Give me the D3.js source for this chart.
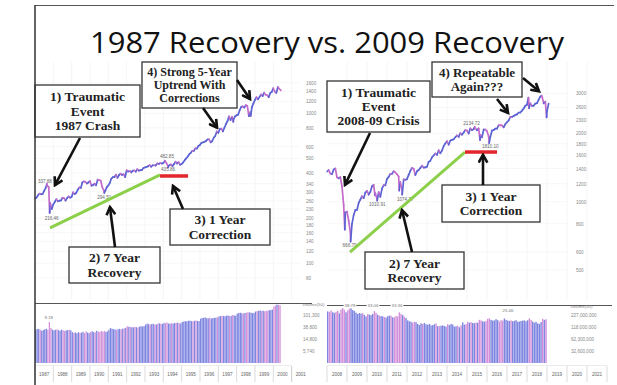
<!DOCTYPE html>
<html>
<head>
<meta charset="utf-8">
<script src="https://cdnjs.cloudflare.com/ajax/libs/d3/7.8.5/d3.min.js"></script>
<style>
  body { margin: 0; background: #fff; }
  svg { display: block; }
</style>
</head>
<body>
<div id="chart"></div>
<script>
// ---- data ----
// left chart: monthly closes, Jan 1987 .. May 2000
const leftStart = 1987;
const leftPrices = [
  274.1, 284.2, 291.7, 288.4, 290.1, 304.0, 318.7, 329.8, 321.8, 251.8, 230.3, 247.1,
  257.1, 267.8, 258.9, 261.3, 262.2, 273.5, 272.0, 261.5, 271.9, 278.9, 273.7, 277.7,
  297.5, 288.9, 294.9, 309.6, 320.5, 317.9, 346.1, 351.5, 349.2, 340.4, 346.0, 353.4,
  329.1, 331.9, 339.9, 330.8, 361.2, 358.0, 356.2, 322.6, 306.1, 304.0, 322.2, 330.2,
  343.9, 367.1, 375.2, 375.3, 389.8, 371.2, 387.8, 395.4, 387.9, 392.5, 375.2, 417.1,
  408.8, 412.7, 403.7, 415.0, 415.4, 408.1, 424.2, 414.0, 417.8, 418.7, 431.4, 435.7,
  438.8, 443.4, 451.7, 440.2, 450.2, 450.5, 448.1, 463.6, 458.9, 467.8, 461.8, 466.5,
  481.6, 467.1, 445.8, 450.9, 456.5, 444.3, 458.3, 475.5, 462.7, 472.4, 453.7, 459.3,
  470.4, 487.4, 500.7, 514.7, 533.4, 544.8, 562.1, 561.9, 584.4, 581.5, 605.4, 615.9,
  636.0, 640.4, 645.5, 654.2, 669.1, 670.6, 640.0, 652.0, 687.3, 705.3, 757.0, 740.7,
  786.2, 790.8, 757.1, 801.3, 848.3, 885.1, 954.3, 899.5, 947.3, 914.6, 955.4, 970.4,
  980.3, 1049.3, 1101.8, 1111.8, 1090.8, 1133.8, 1120.7, 957.3, 1017.0, 1098.7, 1163.6, 1229.2,
  1279.6, 1238.3, 1286.4, 1335.2, 1301.8, 1372.7, 1328.7, 1320.4, 1282.7, 1362.9, 1388.9, 1469.3,
  1394.5, 1366.4, 1498.6, 1452.4, 1420.6
];
const leftVolumes = [
  30500, 33800, 33200, 31500, 29000, 30800, 32500, 34000, 31500, 58000, 36500, 32000,
  30000, 31500, 32500, 30200, 29000, 31800, 30100, 28600, 29900, 30800, 31200, 30400,
  26000, 24500, 25200, 23800, 25900, 24600, 25100, 26800, 24200, 27500, 25300, 24000,
  26500, 27800, 26200, 25400, 28900, 27300, 26100, 28800, 27000, 28400, 26600, 27700,
  31500, 35900, 34200, 33000, 32100, 31200, 32800, 33900, 32500, 34400, 35100, 36800,
  41200, 40100, 39300, 38600, 37900, 39800, 38400, 37200, 40500, 41600, 40800, 42000,
  47500, 51200, 48800, 47900, 49300, 50600, 46800, 48400, 50900, 52300, 51100, 49700,
  54500, 52800, 56100, 51900, 50800, 52700, 51400, 53900, 54600, 55300, 53100, 52200,
  58700, 60400, 62100, 61500, 63800, 64900, 62700, 61800, 64200, 65400, 63300, 62600,
  75400, 79800, 81200, 83500, 78600, 77400, 82100, 76300, 79500, 80700, 81900, 84300,
  90500, 92800, 95100, 93300, 91600, 96200, 97400, 92700, 94800, 101500, 98300, 95600,
  112400, 118900, 121700, 116300, 114800, 119200, 121300, 126500, 124100, 122600, 117800, 120500,
  133400, 138600, 141200, 145900, 139800, 142500, 136700, 140300, 143800, 147600, 151200, 156400,
  198000, 215000, 232000, 226000, 218000
];
const leftMarkDates = [1987.65, 1987.80, 1990.78, 1994.09, 1994.26];
const leftMarkValues = [337.88, 216.46, 294.51, 482.85, 435.86];
const leftSwingDates = [1997.82, 1998.77];
const leftSwingValues = [876.99, 959.44];
const leftPriceTicks = [1600, 1400, 1200, 1000, 800, 600, 500, 400, 340, 300, 260, 230, 200, 180, 160, 140, 120, 100, 80];
const leftVolTicks = [101300, 38800, 14800, 5740];
const leftYears = [1987, 1988, 1989, 1990, 1991, 1992, 1993, 1994, 1995, 1996, 1997, 1998, 1999, 2000, 2001];
const leftTrendDates = [1987.82, 1993.82];
const leftTrendValues = [172, 388];
const leftFlatDates = [1993.82, 1995.35];
const leftFlatValue = 382;

// right chart: monthly closes, Jan 2008 .. Jan 2019
const rightStart = 2008;
const rightPrices = [
  1378.6, 1330.6, 1322.7, 1385.6, 1400.4, 1280.0, 1267.4, 1282.8, 1166.4, 968.8, 896.2, 903.3,
  825.9, 735.1, 797.9, 872.8, 919.1, 919.3, 987.5, 1020.6, 1057.1, 1036.2, 1095.6, 1115.1,
  1073.9, 1104.5, 1169.4, 1186.7, 1089.4, 1030.7, 1101.6, 1049.3, 1141.2, 1183.3, 1180.6, 1257.6,
  1286.1, 1327.2, 1325.8, 1363.6, 1345.2, 1320.6, 1292.3, 1218.9, 1131.4, 1253.3, 1247.0, 1257.6,
  1312.4, 1365.7, 1408.5, 1397.9, 1310.3, 1362.2, 1379.3, 1406.6, 1440.7, 1412.2, 1416.2, 1426.2,
  1498.1, 1514.7, 1569.2, 1597.6, 1630.7, 1606.3, 1685.7, 1633.0, 1681.6, 1756.5, 1805.8, 1848.4,
  1782.6, 1859.5, 1872.3, 1884.0, 1923.6, 1960.2, 1930.7, 2003.4, 1972.3, 2018.1, 2067.6, 2058.9,
  1995.0, 2104.5, 2067.9, 2085.5, 2107.4, 2063.1, 2103.8, 1972.2, 1920.0, 2079.4, 2080.4, 2043.9,
  1940.2, 1932.2, 2059.7, 2065.3, 2097.0, 2098.9, 2173.6, 2171.0, 2168.3, 2126.2, 2198.8, 2238.8,
  2278.9, 2363.6, 2362.7, 2384.2, 2411.8, 2423.4, 2470.3, 2471.7, 2519.4, 2575.3, 2647.6, 2673.6,
  2823.8, 2713.8, 2640.9, 2648.1, 2705.3, 2718.4, 2816.3, 2901.5, 2914.0, 2711.7, 2760.2, 2506.9,
  2704.1
];
// volume in millions
const rightVolumes = [
  275, 268, 290, 262, 255, 270, 285, 248, 305, 330, 300, 262,
  290, 318, 325, 296, 282, 258, 240, 252, 245, 250, 228, 210,
  238, 232, 225, 240, 280, 255, 230, 220, 215, 210, 205, 198,
  212, 220, 218, 200, 202, 215, 210, 262, 240, 225, 208, 192,
  170, 162, 158, 150, 158, 155, 140, 132, 145, 140, 148, 138,
  135, 140, 130, 132, 138, 145, 125, 124, 128, 130, 126, 122,
  138, 132, 140, 136, 122, 124, 128, 118, 130, 152, 135, 140,
  158, 150, 155, 148, 146, 152, 150, 175, 170, 162, 158, 166,
  185, 190, 175, 168, 170, 182, 172, 160, 172, 168, 188, 175,
  168, 165, 170, 162, 166, 172, 158, 160, 165, 168, 170, 162,
  172, 190, 175, 160, 150, 158, 145, 140, 155, 185, 175, 180
];
const rightMarkDates = [2009.18, 2010.51, 2011.76, 2015.38, 2016.11];
const rightMarkValues = [666.79, 1010.91, 1074.77, 2134.72, 1810.10];
const rightSwingDates = [2008.89, 2010.40, 2011.61, 2015.65, 2018.07, 2018.10, 2018.72, 2018.98];
const rightSwingValues = [752.4, 1066.0, 1119.5, 1867.6, 2872.9, 2581.0, 2930.8, 2351.1];
const rightPriceTicks = [3000, 2600, 2300, 2000, 1800, 1600, 1400, 1200, 1000, 800, 600, 500];
const rightVolTicks = [227, 118, 62.3, 32.6];
const rightYears = [2008, 2009, 2010, 2011, 2012, 2013, 2014, 2015, 2016, 2017, 2018, 2019, 2020, 2021];
const rightTrendDates = [2009.15, 2014.9];
const rightTrendValues = [600, 1655];
const rightFlatDates = [2014.9, 2016.5];
const rightFlatValue = 1655;

const upColor = "#5b63d3", downColor = "#c46acb";
const upBar = "#7f86e0", downBar = "#d291da";

const W = 617, H = 385;
const svg = d3.select("#chart").append("svg").attr("width", W).attr("height", H);

// slide frame + title
svg.append("line").attr("x1", 35).attr("x2", 614).attr("y1", 5.5).attr("y2", 5.5)
  .attr("stroke", "#555").attr("stroke-width", 1);
svg.append("text").attr("x", 327).attr("y", 53).attr("text-anchor", "middle")
  .attr("font-family", "Open Sans, sans-serif").attr("font-size", 29)
  .attr("textLength", 474).attr("lengthAdjust", "spacingAndGlyphs")
  .attr("fill", "#111").text("1987 Recovery vs. 2009 Recovery");

const defs = svg.append("defs");
defs.append("marker").attr("id", "head").attr("viewBox", "0 0 10 10")
  .attr("refX", 8).attr("refY", 5).attr("markerWidth", 11).attr("markerHeight", 11)
  .attr("markerUnits", "userSpaceOnUse").attr("orient", "auto")
  .append("path").attr("d", "M1,1 L8,5 L1,9").attr("fill", "none")
  .attr("stroke", "#111").attr("stroke-width", 2.4);

function buildPoints(start, prices, mDates, mValues, sDates, sValues) {
  let pts = prices.map((v, i) => ({ t: start + (i + 1) / 12, v: v }));
  mDates.forEach((t, i) => pts.push({ t: t, v: mValues[i] }));
  sDates.forEach((t, i) => pts.push({ t: t, v: sValues[i] }));
  pts.unshift({ t: start + 0.01, v: prices[0] * 0.985 });
  pts.sort((a, b) => a.t - b.t);
  return pts;
}

function drawChart(cfg) {
  const g = svg.append("g");
  const x = d3.scaleLinear().domain([cfg.years[0], cfg.years[0] + 14]).range([cfg.x0, cfg.x0 + 14 * cfg.yearW]);
  const y = d3.scaleLog().domain(cfg.yDomain).range(cfg.yRange);
  const yv = d3.scaleLog().domain(cfg.vDomain).range([363, 315]);

  // grid
  g.append("g").selectAll("line").data(cfg.years.slice(1)).join("line")
    .attr("x1", d => x(d)).attr("x2", d => x(d)).attr("y1", 62).attr("y2", 300)
    .attr("stroke", "#efeff2").attr("stroke-width", 0.6);
  g.append("g").selectAll("line").data(cfg.priceTicks).join("line")
    .attr("x1", cfg.x0).attr("x2", cfg.gridEnd).attr("y1", d => y(d)).attr("y2", d => y(d))
    .attr("stroke", "#f1f1f4").attr("stroke-width", 0.6);

  // price axis labels (right side)
  g.append("g").attr("transform", `translate(${cfg.axisX},0)`)
    .call(d3.axisRight(y).tickValues(cfg.priceTicks).tickSize(0).tickFormat(d3.format("d")))
    .call(a => a.select(".domain").remove())
    .selectAll("text").attr("font-size", 4.6).attr("fill", "#888")
    .attr("font-family", "Liberation Sans, Arial, sans-serif");

  // price line, segment colour by direction
  const pts = buildPoints(cfg.years[0], cfg.prices, cfg.markDates, cfg.markValues, cfg.swingDates, cfg.swingValues);
  const segs = pts.slice(1).map((p, i) => ({ a: pts[i], b: p }));
  g.append("g").selectAll("line").data(segs).join("line")
    .attr("x1", d => x(d.a.t)).attr("y1", d => y(d.a.v))
    .attr("x2", d => x(d.b.t)).attr("y2", d => y(d.b.v))
    .attr("stroke", d => d.b.v >= d.a.v ? upColor : downColor)
    .attr("stroke-width", 1.7).attr("stroke-linecap", "round");

  // value labels
  g.append("g").selectAll("text").data(cfg.markDates).join("text")
    .attr("x", (d, i) => x(d) + cfg.markOff[i][0]).attr("y", (d, i) => y(cfg.markValues[i]) + cfg.markOff[i][1])
    .attr("text-anchor", "middle").attr("font-size", 4.6).attr("fill", "#666")
    .attr("font-family", "Liberation Sans, Arial, sans-serif")
    .text((d, i) => cfg.markValues[i].toFixed(2));

  // trend + correction lines
  g.append("line")
    .attr("x1", x(cfg.trendDates[0])).attr("y1", y(cfg.trendValues[0]))
    .attr("x2", x(cfg.trendDates[1])).attr("y2", y(cfg.trendValues[1]))
    .attr("stroke", "#8ccf4a").attr("stroke-width", 3);
  g.append("line")
    .attr("x1", x(cfg.flatDates[0])).attr("y1", y(cfg.flatValue))
    .attr("x2", x(cfg.flatDates[1])).attr("y2", y(cfg.flatValue))
    .attr("stroke", "#e3262b").attr("stroke-width", 3.5);

  // volume pane
  g.append("line").attr("x1", cfg.x0).attr("x2", cfg.volLineEnd).attr("y1", cfg.volTop).attr("y2", cfg.volTop)
    .attr("stroke", "#555").attr("stroke-width", 1);
  g.append("g").selectAll("rect").data(cfg.volumes).join("rect")
    .attr("x", (d, i) => x(cfg.years[0] + i / 12))
    .attr("width", (d, i) => x(cfg.years[0] + (i + 1) / 12) - x(cfg.years[0] + i / 12) - 0.25)
    .attr("y", d => yv(d)).attr("height", d => 363 - yv(d))
    .attr("fill", (d, i) => {
      const prev = i === 0 ? cfg.prices[0] * 0.985 : cfg.prices[i - 1];
      return cfg.prices[i] >= prev ? upBar : downBar;
    });
  g.append("g").attr("transform", `translate(${cfg.volAxisX},0)`)
    .call(d3.axisRight(yv).tickValues(cfg.volTicks).tickSize(0).tickFormat(d => d3.format(",")(Math.round(d * cfg.volUnit))))
    .call(a => a.select(".domain").remove())
    .selectAll("text").attr("font-size", 4.6).attr("fill", "#888")
    .attr("font-family", "Liberation Sans, Arial, sans-serif");
  g.append("text").attr("x", cfg.volAxisX + 2).attr("y", cfg.volTop + 2.5)
    .attr("font-size", 4.4).attr("fill", "#888").attr("font-family", "Liberation Sans, Arial, sans-serif")
    .text("Volume(50)");

  // year axis
  g.append("line").attr("x1", cfg.x0).attr("x2", cfg.x0 + 14 * cfg.yearW).attr("y1", 365.5).attr("y2", 365.5)
    .attr("stroke", "#ddd").attr("stroke-width", 0.6);
  g.append("g").selectAll("line").data(cfg.years.concat([cfg.years[0] + 14])).join("line")
    .attr("x1", d => x(d)).attr("x2", d => x(d)).attr("y1", 366).attr("y2", 382)
    .attr("stroke", "#ccc").attr("stroke-width", 0.7);
  g.append("g").selectAll("text").data(cfg.years).join("text")
    .attr("x", d => x(d + 0.5)).attr("y", 375.5).attr("text-anchor", "middle")
    .attr("font-size", 4.6).attr("fill", "#666").attr("font-family", "Liberation Sans, Arial, sans-serif")
    .text(d => d);

  // annotation boxes
  cfg.boxes.forEach(b => {
    g.append("rect").attr("x", b.x).attr("y", b.y).attr("width", b.w).attr("height", b.h)
      .attr("fill", "#fff").attr("stroke", "#333").attr("stroke-width", 1.3);
    const cy = b.y + b.h / 2, step = b.size * 1.05;
    b.lines.forEach((s, i) => {
      g.append("text").attr("x", b.x + b.w / 2)
        .attr("y", cy + (i - (b.lines.length - 1) / 2) * step)
        .attr("dominant-baseline", "central").attr("text-anchor", "middle")
        .attr("font-family", "Liberation Serif, Times New Roman, serif").attr("font-weight", "bold")
        .attr("font-size", b.size).attr("fill", "#222").text(s);
    });
  });

  // arrows: tail in page pixels, tip on the data
  cfg.arrows.forEach(a => {
    g.append("line").attr("x1", a.from[0]).attr("y1", a.from[1])
      .attr("x2", x(a.tipDate)).attr("y2", y(a.tipValue))
      .attr("stroke", "#111").attr("stroke-width", 2.6).attr("marker-end", "url(#head)");
  });

  // small labels in volume pane
  cfg.volNotes.forEach(n => {
    g.append("text").attr("x", x(n.t)).attr("y", n.y).attr("text-anchor", "middle")
      .attr("font-size", 4.4).attr("fill", "#777").attr("stroke", "#fff").attr("stroke-width", 2)
      .attr("paint-order", "stroke").attr("font-family", "Liberation Sans, Arial, sans-serif").text(n.s);
  });
}

drawChart({
  years: leftYears, x0: 35, yearW: 18.33, gridEnd: 300, axisX: 303,
  yDomain: [80, 1600], yRange: [277.8, 82.7],
  vDomain: [2250, 101300], volTicks: leftVolTicks, volUnit: 1, volAxisX: 300, volTop: 303.5, volLineEnd: 312,
  prices: leftPrices, volumes: leftVolumes, priceTicks: leftPriceTicks,
  markDates: leftMarkDates, markValues: leftMarkValues,
  markOff: [[-2, -1], [2, 7], [0, 6], [2, -3], [0, 4]],
  swingDates: leftSwingDates, swingValues: leftSwingValues,
  trendDates: leftTrendDates, trendValues: leftTrendValues,
  flatDates: leftFlatDates, flatValue: leftFlatValue,
  boxes: [
    { x: 35, y: 85, w: 105, h: 52, size: 13.5, lines: ["1) Traumatic", "Event", "1987 Crash"] },
    { x: 142, y: 62, w: 95, h: 46, size: 12, lines: ["4) Strong 5-Year", "Uptrend With", "Corrections"] },
    { x: 170, y: 209, w: 100, h: 36, size: 13.5, lines: ["3) 1 Year", "Correction"] },
    { x: 69, y: 247, w: 91, h: 36, size: 13.5, lines: ["2) 7 Year", "Recovery"] }
  ],
  arrows: [
    { from: [80, 138], tipDate: 1988.09, tipValue: 332 },
    { from: [203, 108], tipDate: 1996.93, tipValue: 802 },
    { from: [237, 80], tipDate: 1998.73, tipValue: 1245 },
    { from: [183, 209], tipDate: 1994.53, tipValue: 328 },
    { from: [115, 247], tipDate: 1991.09, tipValue: 237 }
  ],
  volNotes: [{ t: 1987.75, y: 319, s: "9.18" }]
});

drawChart({
  years: rightYears, x0: 327, yearW: 20, gridEnd: 568, axisX: 573,
  yDomain: [500, 3000], yRange: [270, 93.4],
  vDomain: [17.3, 227], volTicks: rightVolTicks, volUnit: 1e6, volAxisX: 568, volTop: 305.5, volLineEnd: 612,
  prices: rightPrices, volumes: rightVolumes, priceTicks: rightPriceTicks,
  markDates: rightMarkDates, markValues: rightMarkValues,
  markOff: [[-1, 5], [0, 5], [3, 6], [-3, -2], [1, 5]],
  swingDates: rightSwingDates, swingValues: rightSwingValues,
  trendDates: rightTrendDates, trendValues: rightTrendValues,
  flatDates: rightFlatDates, flatValue: rightFlatValue,
  boxes: [
    { x: 327, y: 81, w: 103, h: 51, size: 13.5, lines: ["1) Traumatic", "Event", "2008-09 Crisis"] },
    { x: 432, y: 62, w: 90, h: 35, size: 13, lines: ["4) Repeatable", "Again???"] },
    { x: 442, y: 185, w: 98, h: 37, size: 13.5, lines: ["3) 1 Year", "Correction"] },
    { x: 365, y: 252, w: 99, h: 37, size: 13.5, lines: ["2) 7 Year", "Recovery"] }
  ],
  arrows: [
    { from: [370, 133], tipDate: 2008.9, tipValue: 1186 },
    { from: [523, 78], tipDate: 2018.6, tipValue: 3066 },
    { from: [497, 99], tipDate: 2017.05, tipValue: 2461 },
    { from: [483, 185], tipDate: 2015.8, tipValue: 1608 },
    { from: [412, 252], tipDate: 2011.75, tipValue: 919 }
  ],
  volNotes: [{ t: 2009.15, y: 307, s: "38.78" }, { t: 2010.3, y: 307, s: "33.06" }, { t: 2011.5, y: 307, s: "33.36" }, { t: 2017.05, y: 312, s: "25.46" }]
});

// slide left edge, drawn last so it sits on top
svg.append("line").attr("x1", 35).attr("x2", 35).attr("y1", 5).attr("y2", 385)
  .attr("stroke", "#333").attr("stroke-width", 1.5);
</script>
</body>
</html>
